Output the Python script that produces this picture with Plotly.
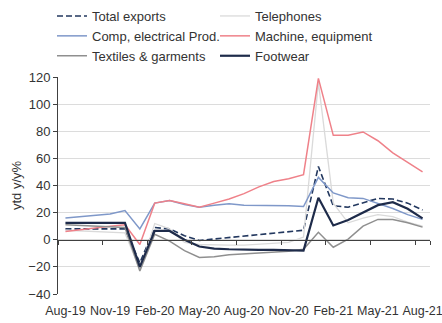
import plotly.graph_objects as go

# Monthly categories, Aug-2019 to Aug-2021
months = ["Aug-19", "Sep-19", "Oct-19", "Nov-19", "Dec-19", "Jan-20", "Feb-20",
          "Mar-20", "Apr-20", "May-20", "Jun-20", "Jul-20", "Aug-20", "Sep-20",
          "Oct-20", "Nov-20", "Dec-20", "Jan-21", "Feb-21", "Mar-21", "Apr-21",
          "May-21", "Jun-21", "Jul-21", "Aug-21"]

# Year-to-date growth, y/y %
total_exports = [8, 8, 8.5, 8.5, 8, -17, 9, 8, 3, -0.5, 0.5, 2, 3, 4, 5, 6, 7,
                 54, 25, 24, 27, 30.5, 30, 27, 22]
telephones = [7, 6.5, 6, 5.5, 5, -22, 12, 8, -2, -3.5, -4, -4, -4, -3.5, -3, -2, 2,
              116, 27, 12.5, 16, 18.5, 17, 13, 10]
comp_electrical = [16, 17, 18, 19, 21.5, 8, 27, 29, 26, 24, 25.5, 26.5, 25.5, 25.5,
                   25.5, 25, 24.5, 46, 34.5, 31, 30.5, 27, 23, 18.5, 15]
machine_equipment = [6, 7.5, 8.5, 10, 11, -3.5, 27, 29, 26.5, 24, 27, 30, 34, 39,
                     43, 45, 48, 119, 77, 77, 79.5, 73, 64, 57, 50]
textiles_garments = [11, 10.5, 10, 9.5, 9, -23, 4, -1, -8, -13, -12.5, -11, -10.5,
                     -10, -9, -8.5, -7, 5.5, -5.5, 0.5, 10, 15, 15, 12.5, 9.3]
footwear = [12.5, 12.5, 12.5, 12.5, 12.5, -20, 6.5, 6.5, 0, -5, -6.5, -7, -7.5,
            -7.5, -7.5, -8, -8, 31, 10.5, 14.5, 20, 25.5, 27.7, 22.8, 15.8]

y_ticks = [-40, -20, 0, 20, 40, 60, 80, 100, 120]
label_months = months[::3]

series = [
    ("Total exports", total_exports, "#23385f", 1.6, "6px,3px"),
    ("Telephones", telephones, "#dadada", 1.3, "solid"),
    ("Comp, electrical Prod.", comp_electrical, "#7f98c9", 1.5, "solid"),
    ("Machine, equipment", machine_equipment, "#ef8189", 1.5, "solid"),
    ("Textiles & garments", textiles_garments, "#8f8f8f", 1.5, "solid"),
    ("Footwear", footwear, "#1e2b4a", 2.2, "solid"),
]

fig = go.Figure()
for name, vals, color, width, dash in series:
    fig.add_trace(go.Scatter(
        x=months, y=vals, name=name, mode="lines",
        line=dict(color=color, width=width, dash=dash),
    ))

# carrier for the bottom category labels
fig.add_trace(go.Scatter(
    x=months, y=[None] * len(months), xaxis="x2", mode="lines",
    showlegend=False, hoverinfo="skip",
))

text_color = "#333333"
font_family = "Liberation Sans, Arial, sans-serif"
ymin, ymax = y_ticks[0], y_ticks[-1]

fig.update_layout(
    width=442, height=323,
    margin=dict(l=58, r=12, t=77, b=29, autoexpand=False),
    paper_bgcolor="white", plot_bgcolor="white",
    font=dict(family=font_family, size=13, color=text_color),
    showlegend=True,
    legend=dict(
        orientation="h", xref="container", yref="container",
        x=52 / 442, xanchor="left", y=1 - 1 / 323, yanchor="top",
        entrywidth=118, entrywidthmode="pixels",
        itemwidth=30, font=dict(size=13, color=text_color),
        tracegroupgap=0, bgcolor="rgba(0,0,0,0)",
    ),
    # axis line drawn through zero, with tick marks on category boundaries
    xaxis=dict(
        type="category", categoryorder="array", categoryarray=months,
        range=[-0.5, len(months) - 0.5],
        anchor="free", position=(0 - ymin) / (ymax - ymin),
        showline=True, linecolor="#404040", linewidth=1,
        ticks="outside", ticklen=4, tickcolor="#404040",
        tickson="boundaries", tickmode="array", tickvals=label_months,
        showticklabels=False, showgrid=False, zeroline=False,
    ),
    xaxis2=dict(
        type="category", categoryorder="array", categoryarray=months,
        range=[-0.5, len(months) - 0.5],
        overlaying="x", anchor="y", side="bottom",
        tickmode="array", tickvals=label_months, ticktext=label_months,
        tickangle=0, ticks="", ticklabelstandoff=7,
        showline=False, showgrid=False, zeroline=False,
        tickfont=dict(size=12.5, color=text_color),
    ),
    yaxis=dict(
        range=[ymin, ymax], tickmode="array", tickvals=y_ticks,
        showline=True, linecolor="#404040", linewidth=1,
        ticks="outside", ticklen=4, tickcolor="#404040",
        showgrid=True, gridcolor="#dcdcdc", gridwidth=1, zeroline=False,
        tickfont=dict(size=13, color=text_color),
        title=dict(text="ytd y/y%", font=dict(size=13, color=text_color), standoff=3),
    ),
)

fig.write_html("out.html")
